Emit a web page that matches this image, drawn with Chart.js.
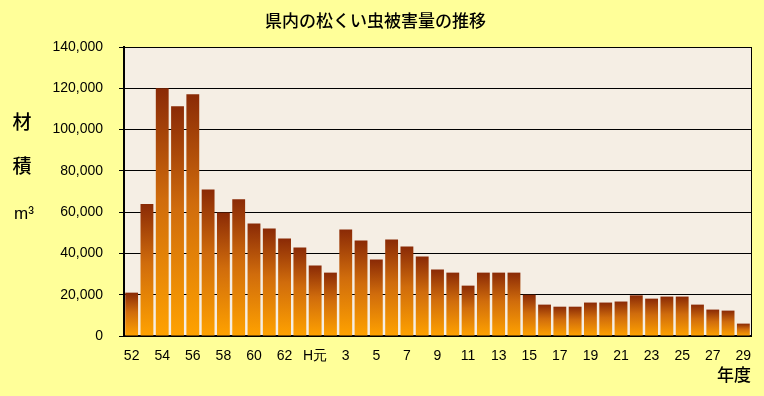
<!DOCTYPE html>
<html lang="ja">
  <head>
    <meta charset="UTF-8" />
    <title>県内の松くい虫被害量の推移</title>
    <script src="https://cdn.jsdelivr.net/npm/chart.js"></script>
    <style>
      html, body { margin: 0; padding: 0; background: #ffff99; }
      #wrap { width: 764px; height: 396px; }
    </style>
  </head>
  <body>
    <div id="wrap"><canvas id="damageChart"></canvas></div>

    <script>
      // 年度 (昭和52〜63, 平成元〜29)
      const years = [
        "52", "53", "54", "55", "56", "57", "58", "59", "60", "61", "62", "63",
        "H元", "2", "3", "4", "5", "6", "7", "8", "9", "10", "11", "12", "13",
        "14", "15", "16", "17", "18", "19", "20", "21", "22", "23", "24", "25",
        "26", "27", "28", "29",
      ];
      // 被害量 (材積 m3)
      const volumes = [
        21000, 64000, 120000, 111300, 117100, 71000, 59800, 66200, 54500, 52100,
        47200, 42900, 34100, 30700, 51600, 46300, 37000, 46700, 43300, 38500,
        32200, 30700, 24400, 30700, 30700, 30700, 20000, 15200, 14200, 14200,
        16200, 16200, 16700, 19700, 18100, 19100, 19100, 15200, 12800, 12300,
        6000,
      ];
      const yTicks = [0, 20000, 40000, 60000, 80000, 100000, 120000, 140000];

      const CJK = "'Noto Sans CJK JP', sans-serif";
      const LAT = "'Liberation Sans', sans-serif";

      const decor = {
        id: "decor",
        beforeDraw(chart) {
          const { ctx, chartArea: a } = chart;
          ctx.save();
          ctx.fillStyle = "#f5eee4";
          ctx.fillRect(a.left, a.top, a.right - a.left, a.bottom - a.top);
          ctx.restore();
        },
        afterDraw(chart) {
          const { ctx, chartArea: a } = chart;
          ctx.save();
          ctx.strokeStyle = "#000";
          ctx.lineWidth = 1;
          ctx.beginPath();
          ctx.moveTo(a.right + 0.5, a.top);
          ctx.lineTo(a.right + 0.5, a.bottom);
          ctx.stroke();
          // 縦書きの軸ラベル
          ctx.fillStyle = "#000";
          ctx.textAlign = "center";
          ctx.textBaseline = "middle";
          ctx.font = "500 19px " + CJK;
          ctx.fillText("材", 22, 122);
          ctx.fillText("積", 22, 166);
          ctx.font = "17px " + LAT;
          ctx.fillText("m³", 24, 214);
          ctx.restore();
        },
      };

      function barGradient(c) {
        const chart = c.chart;
        if (!chart.chartArea || c.type !== "data") return "#d06a10";
        const y = chart.scales.y;
        const top = y.getPixelForValue(c.raw);
        const base = y.getPixelForValue(0);
        const g = chart.ctx.createLinearGradient(0, top, 0, base);
        g.addColorStop(0, "#8a2a06");
        g.addColorStop(0.45, "#d06c0c");
        g.addColorStop(1, "#ffa200");
        return g;
      }

      new Chart(document.getElementById("damageChart"), {
        type: "bar",
        data: {
          labels: years,
          datasets: [
            {
              data: volumes,
              backgroundColor: barGradient,
              borderWidth: 0,
              barPercentage: 0.84,
              categoryPercentage: 1.0,
            },
          ],
        },
        options: {
          responsive: true,
          maintainAspectRatio: false,
          animation: false,
          layout: { padding: { top: 0, right: 13, bottom: 0, left: 0 } },
          plugins: {
            legend: { display: false },
            tooltip: { enabled: false },
            title: {
              display: true,
              text: "県内の松くい虫被害量の推移",
              color: "#000",
              font: { family: CJK, size: 17, weight: "500", lineHeight: 1.2 },
              padding: { top: 10, bottom: 16.6 },
            },
          },
          scales: {
            x: {
              grid: { display: false, drawTicks: false },
              border: { color: "#000", width: 2 },
              ticks: {
                autoSkip: false,
                maxRotation: 0,
                padding: 12,
                color: "#000",
                font: { family: LAT, size: 14 },
                callback: (v, i) => (i % 2 === 0 ? years[i] : ""),
              },
              title: {
                display: true,
                text: "年度",
                align: "end",
                color: "#000",
                font: { family: CJK, size: 17, weight: "500", lineHeight: 1.2 },
                padding: { top: 0, bottom: 10.8 },
              },
              afterFit: (s) => { s.height = 60; },
            },
            y: {
              min: 0,
              max: 140000,
              afterBuildTicks: (s) => { s.ticks = yTicks.map((v) => ({ value: v })); },
              grid: { color: "#000", lineWidth: 1, tickLength: 5 },
              border: { color: "#000", width: 2 },
              ticks: {
                padding: 16,
                color: "#000",
                font: { family: LAT, size: 14 },
                callback: (v) => v.toLocaleString("en-US"),
              },
              afterFit: (s) => { s.width = 124; },
            },
          },
        },
        plugins: [decor],
      });
    </script>
  </body>
</html>
